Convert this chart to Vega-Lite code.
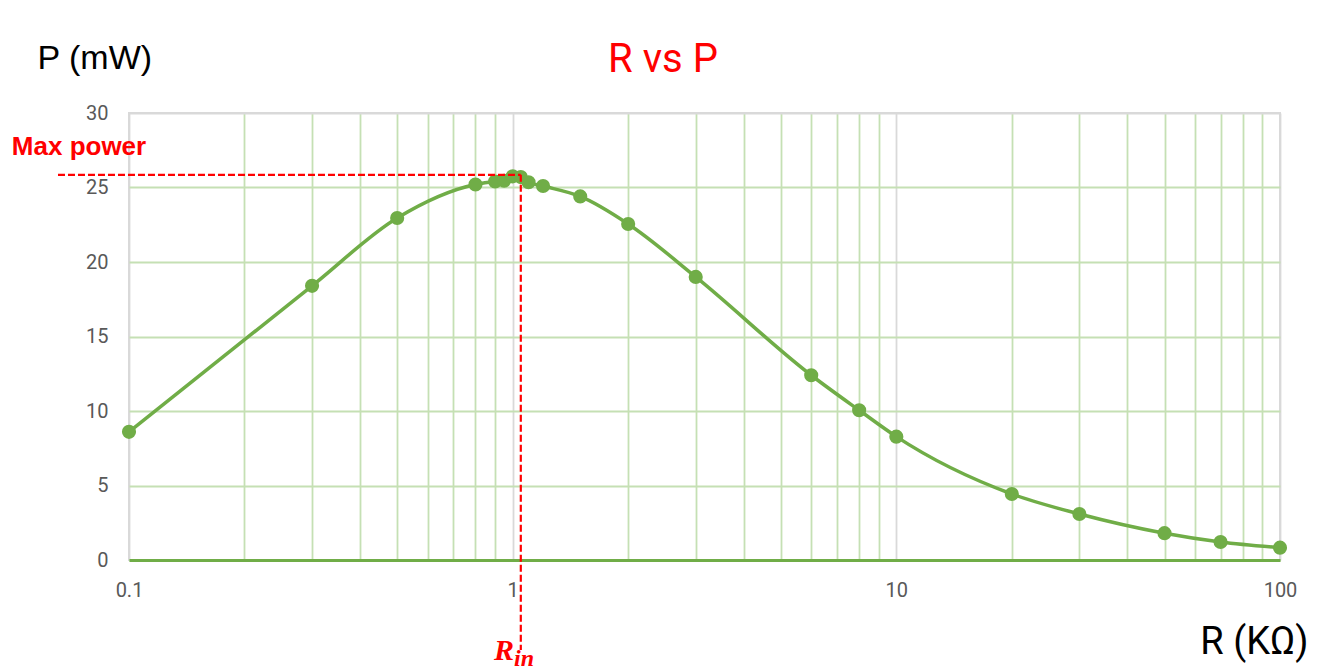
{
  "$schema": "https://vega.github.io/schema/vega-lite/v6.json",
  "width": 1151,
  "height": 447,
  "autosize": "none",
  "padding": {"left": 129, "top": 113, "right": 46, "bottom": 111},
  "background": "white",
  "config": {
    "view": {"stroke": "#d9d9d9", "strokeWidth": 2}
  },
  "datasets": {
    "main": [
      {"R": 0.1, "P": 8.6},
      {"R": 0.3, "P": 18.4},
      {"R": 0.5, "P": 22.95},
      {"R": 0.8, "P": 25.2},
      {"R": 0.9, "P": 25.4},
      {"R": 0.95, "P": 25.45},
      {"R": 1.0, "P": 25.75},
      {"R": 1.05, "P": 25.7},
      {"R": 1.1, "P": 25.35},
      {"R": 1.2, "P": 25.1},
      {"R": 1.5, "P": 24.4},
      {"R": 2, "P": 22.55},
      {"R": 3, "P": 19.0},
      {"R": 6, "P": 12.4},
      {"R": 8, "P": 10.05},
      {"R": 10, "P": 8.28},
      {"R": 20, "P": 4.43},
      {"R": 30, "P": 3.09},
      {"R": 50, "P": 1.8},
      {"R": 70, "P": 1.21},
      {"R": 100, "P": 0.83}
    ],
    "maxp": [
      {"R": 1.05, "P": 25.85, "Rleft": 0.0653, "Pbottom": -6.04}
    ],
    "maxlabel": [
      {"R": 0.0495, "P": 27.18, "label": "Max power"}
    ],
    "titlepos": [
      {"R": 2.465, "P": 32.75, "label": "R vs P"}
    ],
    "rin": [
      {"R": 1.008, "P": -6.71}
    ]
  },
  "encoding": {
    "x": {
      "field": "R",
      "type": "quantitative",
      "scale": {"type": "log", "domain": [0.1, 100], "nice": false},
      "axis": {
        "values": [0.1, 0.2, 0.3, 0.4, 0.5, 0.6, 0.7, 0.8, 0.9, 1, 2, 3, 4, 5, 6, 7, 8, 9, 10, 20, 30, 40, 50, 60, 70, 80, 90, 100],
        "labelExpr": "datum.value == 0.1 ? '0.1' : datum.value == 1 ? '1' : datum.value == 10 ? '10' : datum.value == 100 ? '100' : ''",
        "ticks": false,
        "grid": true,
        "gridColor": {"condition": {"test": "datum.value == 0.1 || datum.value == 1 || datum.value == 10 || datum.value == 100", "value": "#d9d9d9"}, "value": "#c5e0b4"},
        "gridWidth": 1.8,
        "domainColor": "#70ad47",
        "domainWidth": 3,
        "labelFont": "Roboto",
        "labelFontSize": 20,
        "labelColor": "#595959",
        "labelPadding": 20,
        "labelFlush": false,
        "labelOverlap": false,
        "title": "R (KΩ)",
        "titleFont": "Roboto",
        "titleFontSize": 38,
        "titleFontWeight": "normal",
        "titleColor": "#000000",
        "titleAlign": "right",
        "titleAnchor": null,
        "titleBaseline": "alphabetic",
        "titleX": 1179,
        "titleY": 93
      }
    },
    "y": {
      "field": "P",
      "type": "quantitative",
      "scale": {"domain": [0, 30], "nice": false, "zero": false},
      "axis": {
        "values": [0, 5, 10, 15, 20, 25, 30],
        "ticks": false,
        "domain": false,
        "grid": true,
        "gridColor": {"condition": {"test": "datum.value == 30", "value": "#d9d9d9"}, "value": "#c5e0b4"},
        "gridWidth": 1.8,
        "labelFont": "Roboto",
        "labelFontSize": 20,
        "labelColor": "#595959",
        "labelPadding": 21,
        "title": "P (mW)",
        "titleFont": "Liberation Sans",
        "titleFontSize": 34,
        "titleFontWeight": "normal",
        "titleColor": "#000000",
        "titleAngle": 0,
        "titleAlign": "left",
        "titleAnchor": null,
        "titleBaseline": "alphabetic",
        "titleX": -92,
        "titleY": -45
      }
    }
  },
  "layer": [
    {
      "data": {"name": "main"},
      "mark": {"type": "line", "color": "#70ad47", "strokeWidth": 3.5, "interpolate": "monotone", "clip": false}
    },
    {
      "data": {"name": "main"},
      "mark": {"type": "point", "filled": true, "color": "#70ad47", "size": 200, "opacity": 1}
    },
    {
      "data": {"name": "maxp"},
      "mark": {"type": "rule", "color": "#ff0000", "strokeWidth": 2.2, "strokeDash": [7, 3], "clip": false},
      "encoding": {
        "x": {"field": "Rleft", "type": "quantitative"},
        "x2": {"field": "R"},
        "y": {"field": "P", "type": "quantitative"}
      }
    },
    {
      "data": {"name": "maxp"},
      "mark": {"type": "rule", "color": "#ff0000", "strokeWidth": 2.2, "strokeDash": [7, 3], "clip": false},
      "encoding": {
        "x": {"field": "R", "type": "quantitative"},
        "y": {"field": "P", "type": "quantitative"},
        "y2": {"field": "Pbottom"}
      }
    },
    {
      "data": {"name": "maxlabel"},
      "mark": {"type": "text", "color": "#ff0000", "font": "Liberation Sans", "fontWeight": "bold", "fontSize": 26, "align": "left", "baseline": "alphabetic"},
      "encoding": {
        "text": {"field": "label"}
      }
    },
    {
      "data": {"name": "titlepos"},
      "mark": {"type": "text", "color": "#ff0000", "font": "Roboto", "fontWeight": "normal", "fontSize": 40, "align": "center", "baseline": "alphabetic"},
      "encoding": {
        "text": {"field": "label"}
      }
    },
    {
      "data": {"name": "rin"},
      "mark": {"type": "text", "text": "R", "color": "#ff0000", "font": "Liberation Serif", "fontWeight": "bold", "fontStyle": "italic", "fontSize": 30, "align": "right", "baseline": "alphabetic"}
    },
    {
      "data": {"name": "rin"},
      "mark": {"type": "text", "text": "in", "color": "#ff0000", "font": "Liberation Serif", "fontWeight": "bold", "fontStyle": "italic", "fontSize": 24, "align": "left", "baseline": "alphabetic", "dx": 0, "dy": 6}
    }
  ]
}
